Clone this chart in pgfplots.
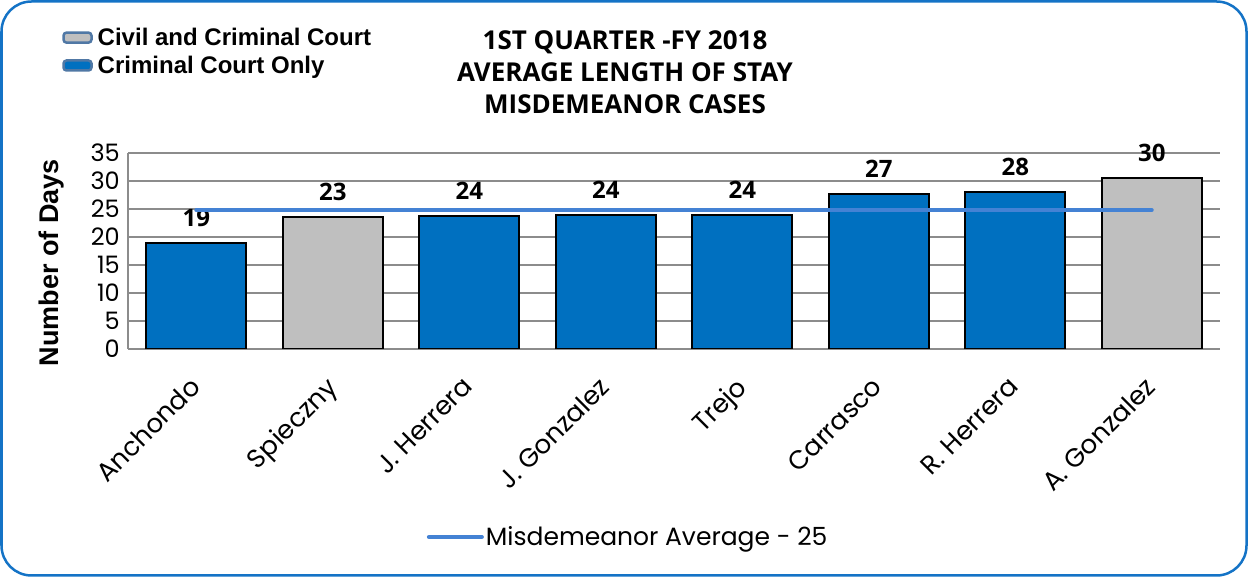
\documentclass[border=0pt]{standalone}
\usepackage{pgfplots}
\pgfplotsset{compat=1.18}
\usepackage{fontspec}
\setmainfont{Liberation Sans}
\newfontfamily\pop{Poppins}
\newfontfamily\osans{Open Sans}
\definecolor{barblue}{RGB}{0,112,192}
\definecolor{bargray}{RGB}{191,191,191}
\definecolor{gridgray}{RGB}{140,140,140}
\definecolor{avgblue}{RGB}{68,130,212}
\definecolor{frameblue}{RGB}{20,115,198}
\definecolor{legborder}{RGB}{80,120,165}
\begin{document}
\begin{tikzpicture}[x=1bp,y=1bp]
\useasboundingbox (0,0) rectangle (1248,577);
\draw[frameblue, line width=2.5bp, rounded corners=30bp] (1.5,1.5) rectangle (1246.5,575.5);
\node[align=center, font=\osans\bfseries\fontsize{26bp}{32bp}\selectfont] at (625,505) {1ST QUARTER -FY 2018\\AVERAGE LENGTH OF STAY\\MISDEMEANOR CASES};
\begin{axis}[
  at={(128bp,228bp)}, anchor=south west,
  width=1092bp, height=196bp, scale only axis,
  xmin=-0.5, xmax=7.5, ymin=0, ymax=35,
  ytick={0,5,...,35},
  xtick={0,...,7},
  xticklabels={Anchondo,Spieczny,J. Herrera,J. Gonzalez,Trejo,Carrasco,R. Herrera,A. Gonzalez},
  major tick length=0pt,
  axis x line*=bottom, axis y line*=left,
  axis line style={draw=gridgray, line width=1.5bp, -},
  ymajorgrids, grid style={draw=gridgray, line width=1.5bp},
  /pgf/number format/assume math mode=true,
  yticklabel style={font=\pop\fontsize{24bp}{28bp}\selectfont, anchor=east, inner sep=0pt, xshift=-8bp},
  xticklabel style={font=\pop\fontsize{26bp}{30bp}\selectfont, xshift=-8bp, yshift=-26bp, rotate=45, anchor=north east, inner sep=0pt},
  ylabel={Number of Days},
  every axis y label/.style={at={(axis description cs:-0.0696,0.441)}, rotate=90, anchor=center, font=\bfseries\fontsize{27bp}{30bp}\selectfont},
  ybar, bar width=100bp,
  nodes near coords,
  point meta=explicit symbolic,
  every node near coord/.append style={font=\osans\bfseries\fontsize{24bp}{28bp}\selectfont, text=black, yshift=12bp},
  legend style={at={(axis description cs:-0.0604,1.648)}, anchor=north west, draw=none, fill=none, inner sep=0pt, row sep=5bp,
    font=\fontsize{24bp}{28bp}\selectfont\bfseries,
    nodes={inner xsep=5bp}},
  legend cell align=left,
]
\addplot[fill=bargray, draw=black, line width=2bp, bar shift=0pt,
  legend image code/.code={\draw[fill=bargray, draw=legborder, line width=2.5bp, rounded corners=3bp] (0bp,-5bp) rectangle (28bp,5bp);}]
  coordinates {(1,23.6)[23] (7,30.5)[30]};
\addlegendentry{Civil and Criminal Court}
\addplot[fill=barblue, draw=black, line width=2bp, bar shift=0pt,
  legend image code/.code={\draw[fill=barblue, draw=legborder, line width=2.5bp, rounded corners=3bp] (0bp,-5bp) rectangle (28bp,5bp);}]
  coordinates {(0,18.9)[19] (2,23.8)[24] (3,23.9)[24] (4,23.9)[24] (5,27.7)[27] (6,28.0)[28]};
\addlegendentry{Criminal Court Only}
\end{axis}
\begin{axis}[
  at={(128bp,228bp)}, anchor=south west,
  width=1092bp, height=196bp, scale only axis,
  xmin=-0.5, xmax=7.5, ymin=0, ymax=35,
  hide axis,
  legend style={at={(axis description cs:0.458,-0.959)}, anchor=center, draw=none, fill=none, inner sep=0pt,
    font=\pop\fontsize{25bp}{28bp}\selectfont},
  legend image code/.code={\draw[#1] (0bp,0bp) -- (53bp,0bp);},
]
\addplot[avgblue, line width=4bp, line cap=round] coordinates {(0,24.8) (7,24.8)};
\addlegendentry{Misdemeanor Average - 25}
\end{axis}
\end{tikzpicture}
\end{document}
